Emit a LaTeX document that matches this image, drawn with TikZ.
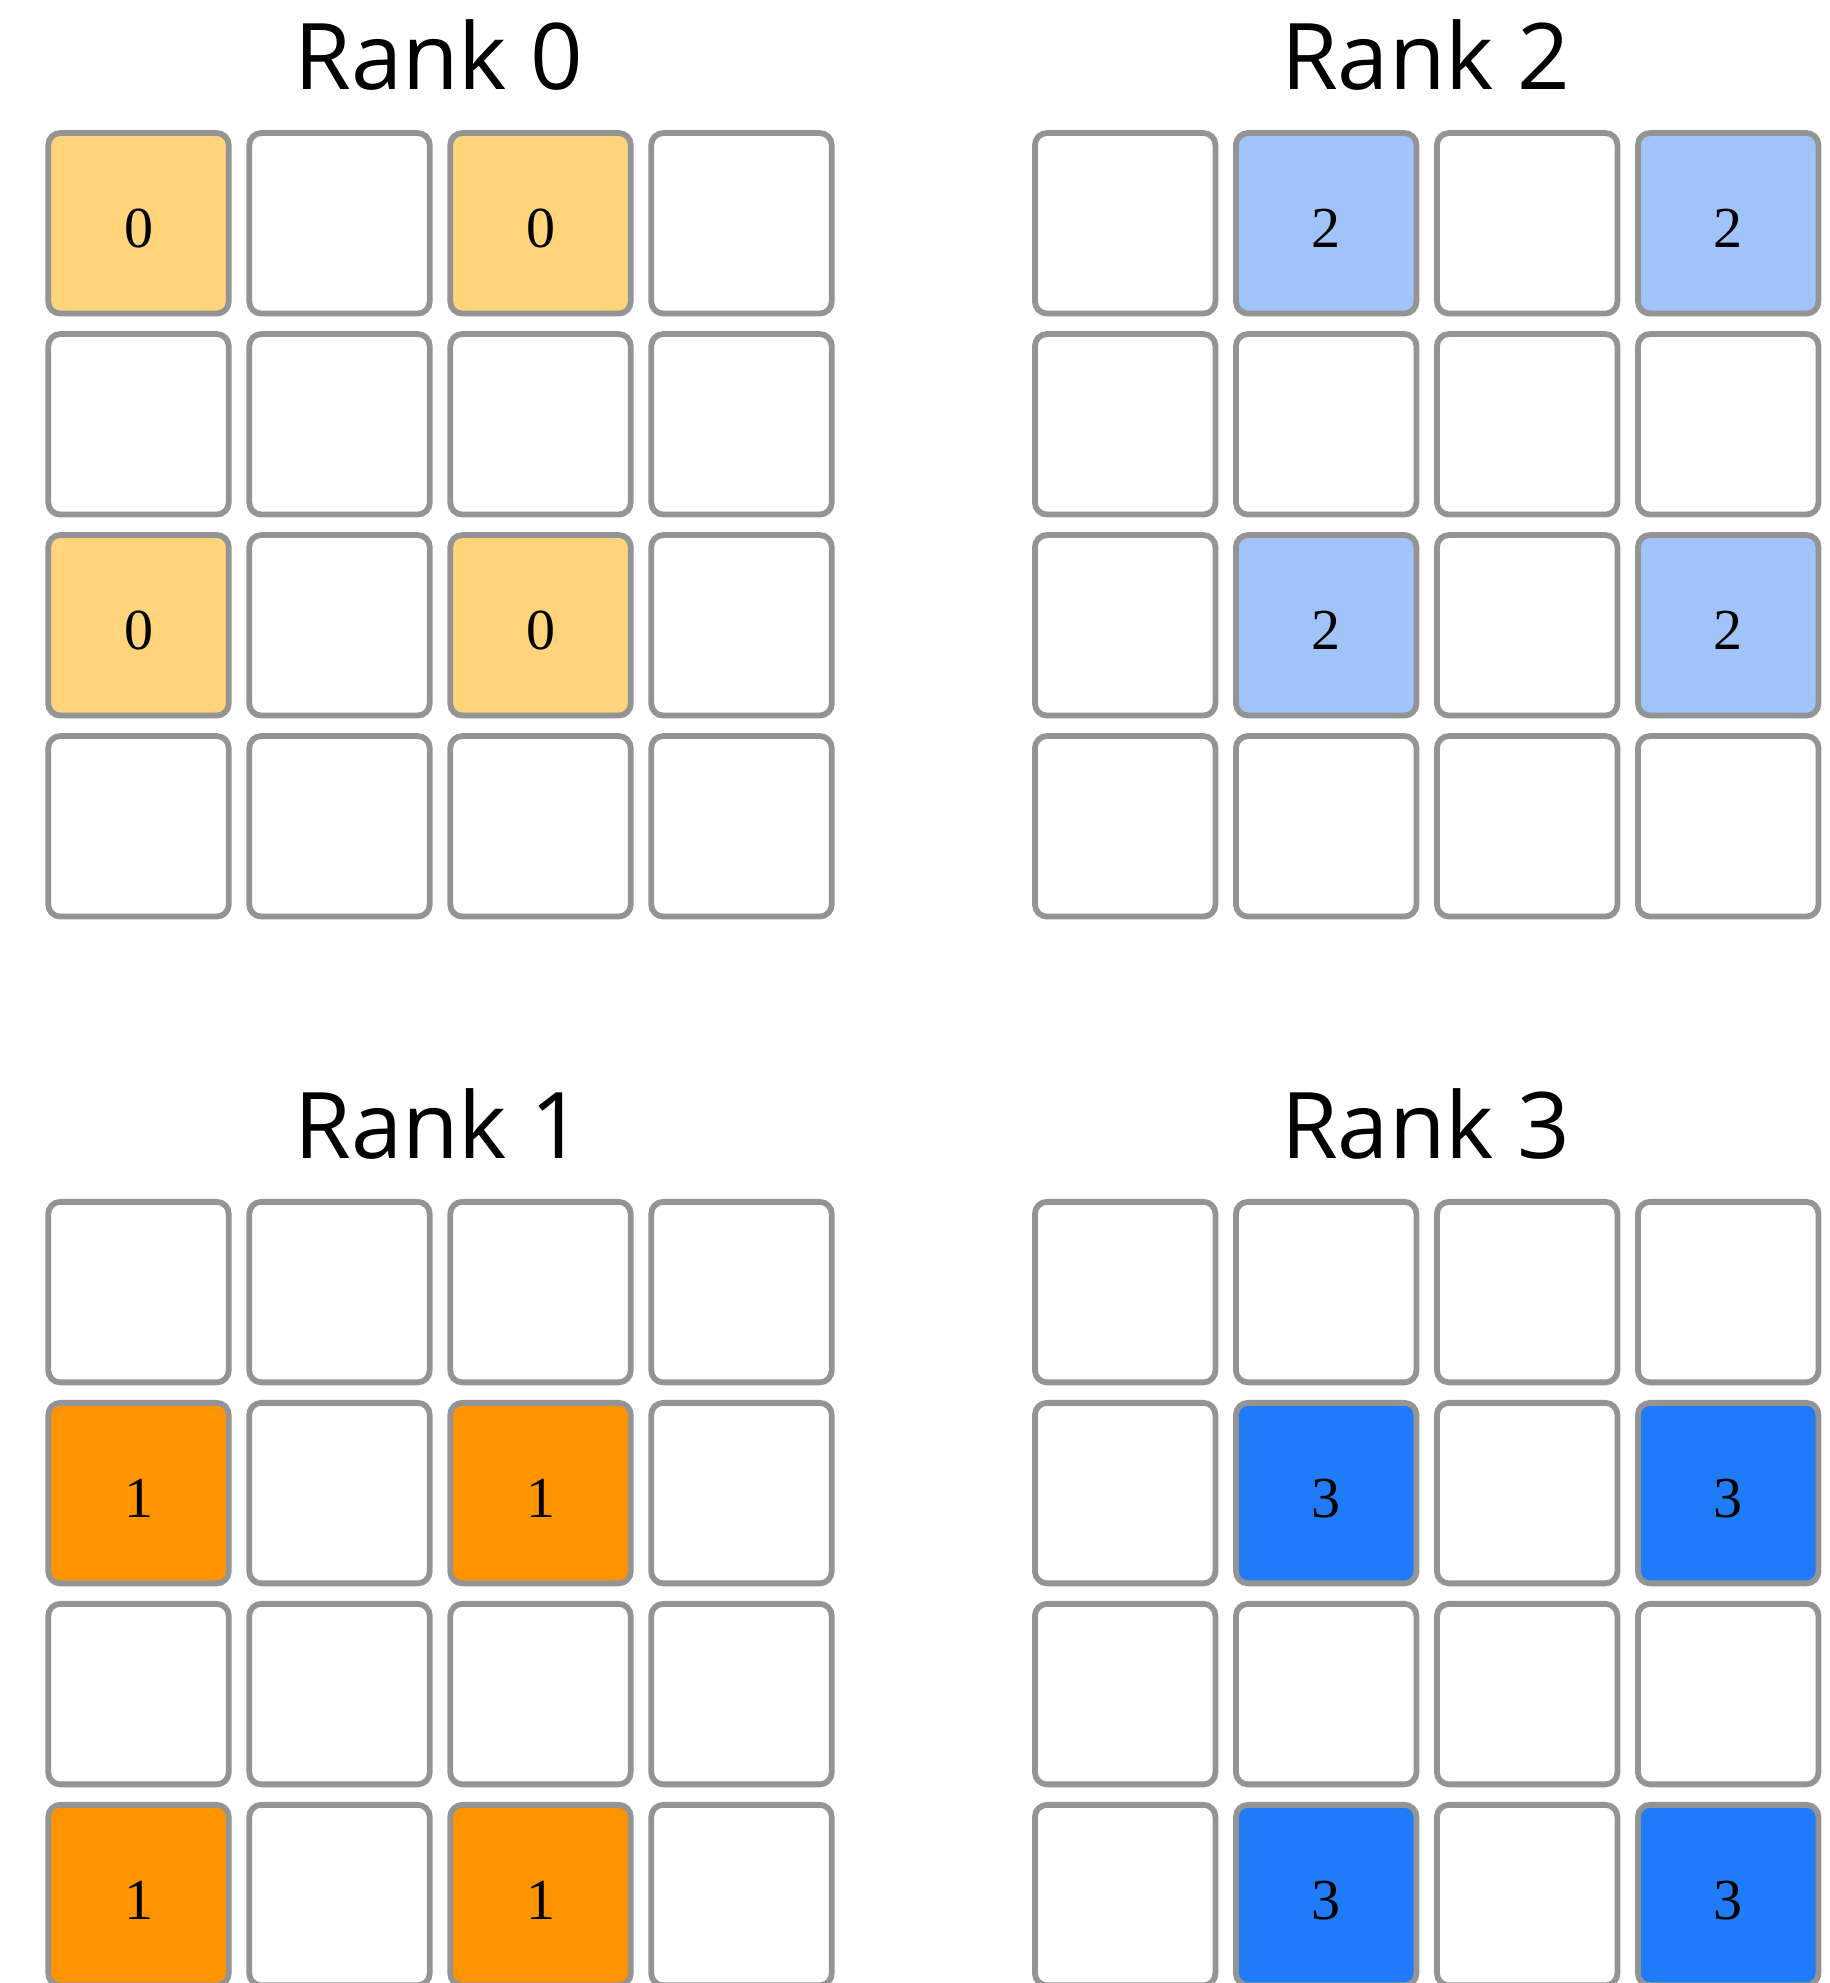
\documentclass[tikz,border=0pt]{standalone}
\usepackage{fontspec}
\setmainfont{Liberation Serif}
\newfontfamily\titlefont{Open Sans}
\definecolor{cellborder}{HTML}{949494}
\definecolor{yel}{HTML}{FFD47A}
\definecolor{org}{HTML}{FF9400}
\definecolor{lblue}{HTML}{A0C3FA}
\definecolor{dblue}{HTML}{1F7BF8}
\tikzset{
  cell/.style={draw=cellborder, line width=5.8pt, rounded corners=12pt, fill=white,
    minimum width=180.5pt, minimum height=180.5pt, inner sep=0pt,
    font=\fontsize{58}{62}\selectfont},
  ranktitle/.style={font=\titlefont\fontsize{92}{100}\selectfont, anchor=base, inner sep=0pt}
}
\begin{document}
\begin{tikzpicture}[x=1pt,y=-1pt]
\useasboundingbox (0,0) rectangle (1829,1983);
\clip (0,0) rectangle (1829,1983);
\foreach \g/\gx/\gy/\lbl/\col/\rowoff/\coloff in {0/45.5/130.3/0/yel/0/0, 2/1032.2/130.3/2/lblue/0/1, 1/45.5/1199.1/1/org/1/0, 3/1032.2/1199.1/3/dblue/1/1}{
  \node[ranktitle] (title\g) at ({\gx+393.5},{\gy-41}) {Rank \g};
  \foreach \i in {0,...,3}{
    \foreach \j in {0,...,3}{
      \pgfmathtruncatemacro{\hit}{(mod(\i+\coloff,2)==0)&&(mod(\j+\rowoff,2)==0)}
      \ifnum\hit=1
        \node[cell, fill=\col] (g\g c\i r\j) at ({\gx+93+201*\i},{\gy+93+201*\j}) {\raisebox{-5pt}[\height][0pt]{\lbl}};
      \else
        \node[cell] (g\g c\i r\j) at ({\gx+93+201*\i},{\gy+93+201*\j}) {};
      \fi
    }
  }
}
\end{tikzpicture}
\end{document}
